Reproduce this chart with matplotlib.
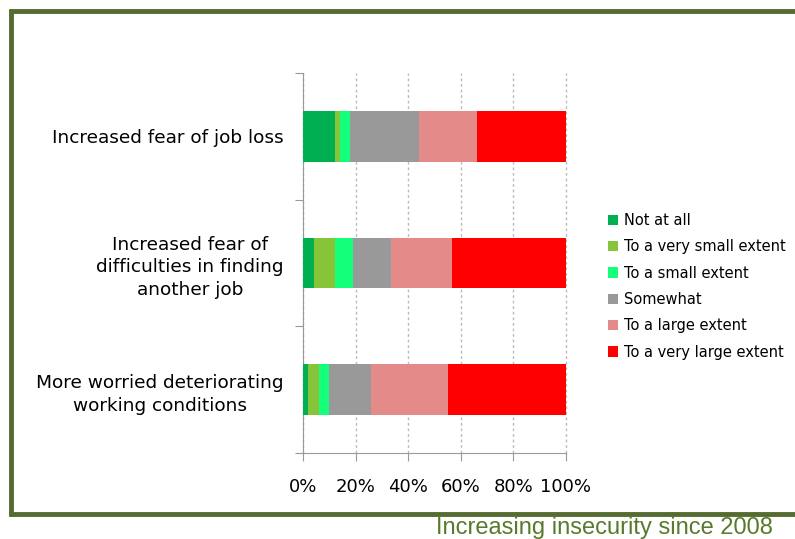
import matplotlib.pyplot as plt
import numpy as np

# data
categories = ['Increased fear of job loss',
              'Increased fear of\ndifficulties in finding\nanother job',
              'More worried deteriorating\nworking conditions']
series = ['Not at all', 'To a very small extent', 'To a small extent',
          'Somewhat', 'To a large extent', 'To a very large extent']
values = [
    [12, 4, 2],        # Not at all
    [2, 8, 4],         # To a very small extent
    [4, 7, 4],         # To a small extent
    [26, 14.5, 16],    # Somewhat
    [22, 23, 29],      # To a large extent
    [34, 43.5, 45],    # To a very large extent
]
colors = ['#00B050', '#86C43A', '#14FF7A', '#999999', '#E48A89', '#FF0000']
xticks = [0, 20, 40, 60, 80, 100]
olive = '#556B2F'

fig = plt.figure(figsize=(7.95, 5.39), dpi=100)

# olive frame (left, top, bottom)
for xs, ys in [([11 / 795, 11 / 795], [1 - 9 / 539, 1 - 516 / 539]),
               ([9 / 795, 1], [1 - 11 / 539, 1 - 11 / 539]),
               ([9 / 795, 1], [1 - 513.5 / 539, 1 - 513.5 / 539])]:
    fig.add_artist(plt.Line2D(xs, ys, color=olive, lw=3.5,
                              solid_capstyle='butt', transform=fig.transFigure))

ax = fig.add_axes([303 / 795, 1 - 453 / 539, 263 / 795, 380 / 539])

ypos = np.arange(len(categories))[::-1]
left = np.zeros(len(categories))
for name, vals, c in zip(series, values, colors):
    ax.barh(ypos, vals, left=left, height=0.4, color=c, label=name, zorder=3)
    left += np.array(vals)

ax.set_xlim(0, 100)
ax.set_ylim(-0.5, 2.5)
ax.set_xticks(xticks)
ax.set_xticklabels([f'{t}%' for t in xticks], fontsize=13)
ax.tick_params(axis='x', length=6, color='#999999', pad=12)
ax.xaxis.grid(True, linestyle=(0, (2, 2)), color='#BBBBBB', lw=1, zorder=0,
              clip_on=False)

ax.set_yticks([-0.5, 0.5, 1.5, 2.5])
ax.set_yticklabels([])
ax.tick_params(axis='y', which='major', length=6, color='#999999')
ax.set_yticks(ypos, minor=True)
ax.set_yticklabels(categories, minor=True, fontsize=13.3,
                   multialignment='center', linespacing=1.35)
ax.tick_params(axis='y', which='minor', length=0, pad=14)

for s in ['top', 'right']:
    ax.spines[s].set_visible(False)
for s in ['left', 'bottom']:
    ax.spines[s].set_color('#999999')

fig.legend(loc='upper left', bbox_to_anchor=(602 / 795, 1 - 207 / 539),
           frameon=False, fontsize=10.5, handlelength=0.7, handleheight=0.7,
           handletextpad=0.4, labelspacing=0.78, borderaxespad=0)

fig.text(773 / 795, 1 - 528 / 539, 'Increasing insecurity since 2008',
         ha='right', va='center', color='#587A2C', fontsize=17,
         family='Liberation Sans')

fig.savefig('out.png', dpi=100)
